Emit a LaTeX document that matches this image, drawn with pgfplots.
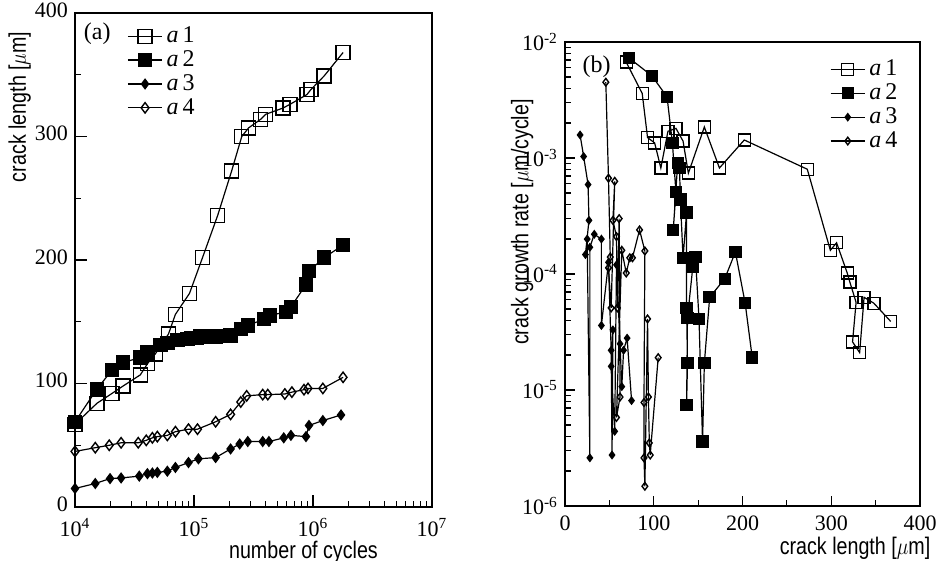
\documentclass[border=0pt]{standalone}
\usepackage{pgfplots}
\pgfplotsset{compat=1.18}
\usepackage{fontspec}
\usepackage{graphicx}
\setmainfont{Liberation Serif}
\newfontfamily\labelfont{Liberation Sans}
\newcommand{\lab}[1]{\scalebox{0.82}[1]{\labelfont\fontsize{12}{14}\selectfont #1}}
\newcommand{\ent}[1]{\textit{a}\,#1}

\pgfplotsset{
  myax/.style={
    scale only axis,
    axis line style={line width=1pt},
    tick style={line width=0.6pt, black},
    tick align=inside,
    major tick length=6pt,
    minor tick length=3.2pt,
    xtick pos=bottom, ytick pos=left,
    ticklabel style={font=\fontsize{11}{12}\selectfont},
    /pgf/number format/assume math mode=true,
    legend cell align=left,
    legend style={draw=none, fill=none, font=\fontsize{12}{12}\selectfont, row sep=-1.5pt, inner sep=1pt},
    every axis plot/.append style={black, line width=0.6pt},
  },
  sA/.style={mark=square, mark options={fill=white, line width=0.7pt}},
  sB/.style={mark=square*, mark options={fill=black}},
  sC/.style={mark=diamond*, mark options={fill=black}},
  sD/.style={mark=diamond, mark options={fill=white, line width=0.7pt}},
}

\begin{document}
\begin{tikzpicture}
\useasboundingbox (0,0) rectangle (471.5pt,280.5pt);

% ---------------- (a) ----------------
\begin{axis}[myax,
  at={(37.5pt,27pt)}, anchor=south west,
  width=178.5pt, height=247pt,
  xmode=log, xmin=1e4, xmax=1e7,
  xtick={1e4,1e5,1e6,1e7},
  xticklabels={10\textsuperscript{4},10\textsuperscript{5},10\textsuperscript{6},10\textsuperscript{7}},
  xticklabel style={yshift=-2pt},
  ymin=0, ymax=400, ytick={0,100,200,300,400}, minor y tick num=1,
  yticklabel style={yshift=1.5pt},
  xlabel={\lab{number of cycles}},
  ylabel={\lab{crack length [$\mu$m]}},
  every axis x label/.style={at={(axis description cs:0.64,-0.092)}, anchor=center},
  every axis y label/.style={at={(axis description cs:-0.155,0.81)}, rotate=90, anchor=center},
  legend style={at={(0.14,0.985)}, anchor=north west},
]
\addplot[sA, mark size=3.5pt] coordinates {
(1e4,67) (1.53e4,84) (2.05e4,92) (2.54e4,98) (3.54e4,107) (4.06e4,116) (4.73e4,124)
(6.1e4,140) (6.98e4,156) (9.17e4,173) (1.18e5,202) (1.58e5,236) (2.07e5,272)
(2.52e5,300) (2.88e5,307) (3.64e5,314) (4.01e5,318) (5.58e5,323) (6.4e5,326)
(8.9e5,334) (9.6e5,338) (1.24e6,349) (1.79e6,368)};
\addlegendentry{\ent{1}}
\addplot[sB, mark size=3.3pt] coordinates {
(1e4,69) (1.53e4,95.5) (2.05e4,111) (2.54e4,117) (3.54e4,121) (4.06e4,125)
(5.21e4,131) (5.97e4,133) (7.26e4,135) (8.81e4,136) (9.53e4,137) (1.05e5,137)
(1.13e5,138) (1.52e5,138) (2.03e5,139) (2.47e5,144) (2.83e5,147) (3.86e5,152)
(4.33e5,155) (5.92e5,158) (6.52e5,162) (8.73e5,180) (9.25e5,191) (1.24e6,202)
(1.79e6,212)};
\addlegendentry{\ent{2}}
\addplot[sC, mark size=2.4pt] coordinates {
(1e4,15) (1.48e4,19) (1.97e4,23) (2.44e4,23.5) (3.47e4,25) (4.06e4,27) (4.47e4,27.5)
(4.92e4,28) (5.97e4,29) (6.98e4,32) (8.99e4,36) (1.09e5,39) (1.52e5,40)
(2.03e5,47) (2.42e5,51) (2.83e5,53) (3.78e5,53) (4.26e5,53) (5.68e5,56)
(6.52e5,58) (8.73e5,57) (9.25e5,66) (1.21e6,70) (1.72e6,74.5)};
\addlegendentry{\ent{3}}
\addplot[sD, mark size=2.6pt] coordinates {
(1e4,45) (1.48e4,48) (1.94e4,50) (2.44e4,52) (3.4e4,52) (3.97e4,54) (4.47e4,56)
(4.92e4,57) (5.97e4,58) (6.98e4,61) (8.99e4,63) (1.07e5,63) (1.52e5,69)
(2.03e5,75) (2.47e5,85) (2.77e5,90) (3.78e5,91) (4.17e5,91) (5.8e5,91.5)
(6.65e5,93) (8.4e5,95) (9.08e5,96) (1.21e6,96) (1.79e6,105)};
\addlegendentry{\ent{4}}
\node[anchor=north west, font=\fontsize{12}{12}\selectfont] at (rel axis cs:0.005,0.995) {(a)};
\end{axis}

% ---------------- (b) ----------------
\begin{axis}[myax,
  at={(282.5pt,27.5pt)}, anchor=south west,
  width=177.5pt, height=232pt,
  xmin=0, xmax=400, xtick={0,100,200,300,400}, minor x tick num=1,
  xticklabel style={yshift=-1.5pt},
  ymode=log, ymin=1e-6, ymax=1e-2,
  ytick={1e-6,1e-5,1e-4,1e-3,1e-2},
  yticklabels={10\textsuperscript{-6},10\textsuperscript{-5},10\textsuperscript{-4},10\textsuperscript{-3},10\textsuperscript{-2}},
  major tick length=5pt, minor tick length=2.8pt,
  xlabel={\lab{crack length [$\mu$m]}},
  ylabel={\lab{crack growth rate [$\mu$m/cycle]}},
  every axis x label/.style={at={(axis description cs:0.817,-0.092)}, anchor=center},
  every axis y label/.style={at={(axis description cs:-0.121,0.612)}, rotate=90, anchor=center},
  legend style={at={(0.74,0.975)}, anchor=north west},
]
\addplot[sA, mark size=3pt] coordinates {
(69,6.7e-3) (87,3.6e-3) (93,1.5e-3) (101,1.35e-3) (108,8.2e-4) (116,1.7e-3)
(125,1.8e-3) (133,1.4e-3) (139,7.4e-4) (157,1.85e-3) (174,8.2e-4) (202,1.43e-3)
(273,8.0e-4) (299,1.6e-4) (306,1.86e-4) (318,1.02e-4) (321,8.5e-5) (328,5.7e-5)
(324,2.6e-5) (332,2.1e-5) (337,6.3e-5) (348,5.6e-5) (367,3.9e-5)};
\addlegendentry{\ent{1}}
\addplot[sB, mark size=2.8pt] coordinates {
(72,7.3e-3) (98,5.1e-3) (115,3.36e-3) (121,1.35e-3) (125,5.1e-4) (122,2.4e-4)
(127,9.1e-4) (129,8.2e-4) (130,4.4e-4) (133,1.38e-4) (137,3.4e-4) (137,5.1e-5)
(138,1.7e-5) (137,7.4e-6) (138,4.2e-5) (144,1.15e-4) (147,1.4e-4) (151,4.1e-5)
(155,3.6e-6) (157,1.7e-5) (163,6.3e-5) (180,9.1e-5) (192,1.55e-4) (203,5.6e-5)
(211,1.9e-5)};
\addlegendentry{\ent{2}}
\addplot[sC, mark size=1.8pt] coordinates {
(17,1.58e-3) (21,1.03e-3) (26,5.9e-4) (27,2.9e-4) (23,1.47e-4) (25,2.0e-4)
(28,2.6e-6) (28,1.7e-4) (33,2.2e-4) (41,2.0e-4) (41,3.6e-5) (49,1.26e-4)
(52,2.2e-5) (53,2.75e-6) (54,3.3e-5) (52,1.6e-5) (56,4.4e-6) (58,1.2e-4)
(62,2.5e-5) (64,1.07e-5) (66,2.2e-5) (70,2.8e-5) (75,8.1e-6)};
\addlegendentry{\ent{3}}
\addplot[sD, mark size=1.9pt] coordinates {
(46,4.5e-3) (49,6.7e-4) (51,1.4e-4) (49,1.13e-4) (52,5.1e-5) (56,6.3e-4)
(54,2.9e-4) (58,2.1e-4) (59,5.1e-5) (61,3.0e-4) (62,8.7e-6) (58,5.8e-6)
(64,1.6e-4) (69,1.02e-4) (73,1.38e-4) (76,1.38e-4) (84,2.4e-4) (90,1.58e-4)
(89,7.8e-6) (89,2.6e-6) (90,1.48e-6) (93,4.1e-5) (94,8.7e-6) (95,3.5e-6)
(96,2.75e-6) (105,1.9e-5)};
\addlegendentry{\ent{4}}
\node[anchor=north west, font=\fontsize{12}{12}\selectfont] at (rel axis cs:0.03,0.985) {(b)};
\end{axis}
\end{tikzpicture}
\end{document}
